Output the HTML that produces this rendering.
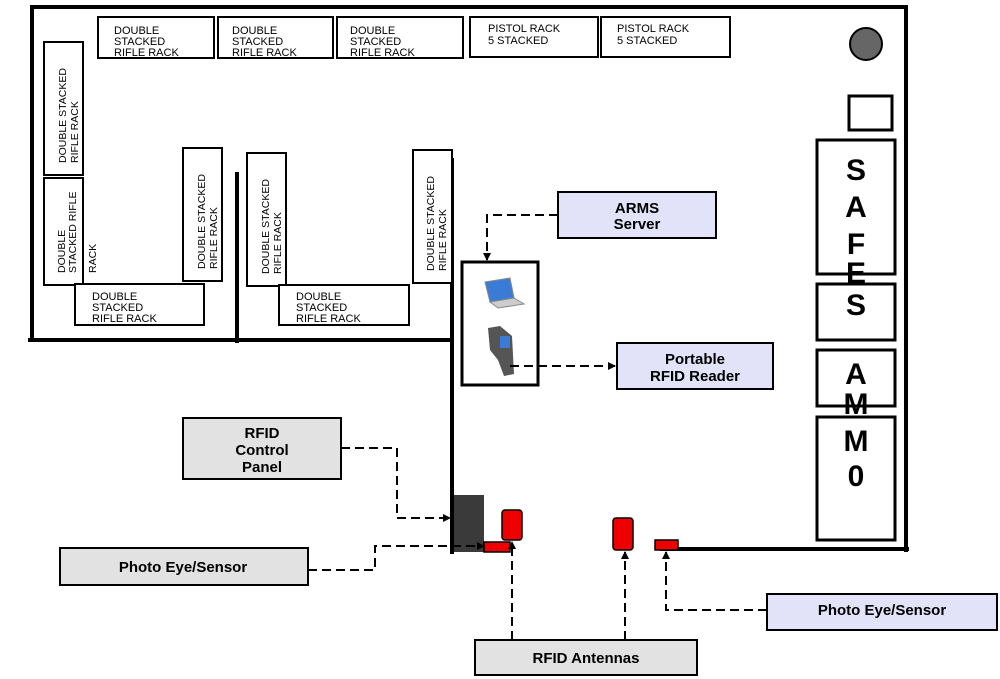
<!DOCTYPE html>
<html><head><style>body{margin:0;background:#fff}svg{display:block}</style></head><body>
<svg width="1000" height="679" viewBox="0 0 1000 679" xmlns="http://www.w3.org/2000/svg" font-family="Liberation Sans, Arial, sans-serif">
<defs><marker id="a" markerWidth="8" markerHeight="8" refX="7" refY="4" orient="auto" markerUnits="userSpaceOnUse"><path d="M0,0 L8,4 L0,8 Z" fill="#000"/></marker></defs>
<g stroke="#000" fill="none">
<path d="M30,7 H908 M32,6 V342 M28,340 H452 M452,158 V554 M906,6 V552 M660,549 H909 M237,172 V343" stroke-width="4"/>
</g>
<g stroke="#000" stroke-width="2" fill="#fff">
<rect x="98" y="17" width="116" height="41"/><rect x="218" y="17" width="115" height="41"/><rect x="337" y="17" width="126" height="41"/>
<rect x="470" y="17" width="128" height="40"/><rect x="601" y="17" width="129" height="40"/>
<rect x="849" y="96" width="43" height="34" stroke-width="3"/>
<rect x="44" y="42" width="39" height="133"/><rect x="44" y="178" width="39" height="107"/>
<rect x="75" y="284" width="129" height="41"/><rect x="183" y="148" width="39" height="133"/>
<rect x="247" y="153" width="39" height="133"/><rect x="279" y="285" width="130" height="40"/>
<rect x="413" y="150" width="39" height="133"/>
<rect x="462" y="262" width="76" height="123" stroke-width="3"/>
<rect x="817" y="140" width="78" height="134" stroke-width="3"/><rect x="817" y="284" width="78" height="56" stroke-width="3"/>
<rect x="817" y="350" width="78" height="56" stroke-width="3"/><rect x="817" y="417" width="78" height="123" stroke-width="3"/>
<rect x="558" y="192" width="158" height="46" fill="#e2e2f8"/><rect x="617" y="343" width="156" height="46" fill="#e2e2f8"/>
<rect x="183" y="418" width="158" height="61" fill="#e2e2e2"/><rect x="60" y="548" width="248" height="37" fill="#e2e2e2"/>
<rect x="767" y="594" width="230" height="36" fill="#e2e2f8"/><rect x="475" y="640" width="222" height="35" fill="#e2e2e2"/>
</g>
<circle cx="866" cy="44" r="16" fill="#666" stroke="#000" stroke-width="2"/>
<rect x="454" y="495" width="30" height="57" fill="#3a3a3a"/>
<g fill="#e00" stroke="#000" stroke-width="1.5">
<rect x="502" y="510" width="20" height="30" rx="3"/><rect x="484" y="542" width="26" height="10"/>
<rect x="613" y="518" width="20" height="32" rx="3"/><rect x="655" y="540" width="23" height="10"/>
</g>
<!-- icons -->
<path d="M485,282 L510,278 L514,298 L490,302 Z" fill="#3a7bd5" stroke="#888"/>
<path d="M490,302 L514,298 L524,304 L498,308 Z" fill="#ccc" stroke="#888"/>
<path d="M488,328 L500,326 L512,336 L514,374 L504,376 L498,360 L490,350 Z" fill="#555"/>
<rect x="500" y="336" width="10" height="12" fill="#3a7bd5"/>
<g stroke="#000" stroke-width="2" fill="none" stroke-dasharray="9,5">
<path d="M558,215 H487 V260" marker-end="url(#a)"/>
<path d="M510,366 H615" marker-end="url(#a)"/>
<path d="M341,448 H397 V518 H450" marker-end="url(#a)"/>
<path d="M308,570 H375 V546 H484" marker-end="url(#a)"/>
<path d="M512,640 V542" marker-end="url(#a)"/>
<path d="M625,640 V552" marker-end="url(#a)"/>
<path d="M767,610 H666 V552" marker-end="url(#a)"/>
</g>
<g font-size="11" fill="#000">
<text x="114" y="34">DOUBLE</text><text x="114" y="45">STACKED</text><text x="114" y="56">RIFLE RACK</text>
<text x="232" y="34">DOUBLE</text><text x="232" y="45">STACKED</text><text x="232" y="56">RIFLE RACK</text>
<text x="350" y="34">DOUBLE</text><text x="350" y="45">STACKED</text><text x="350" y="56">RIFLE RACK</text>
<text x="488" y="32">PISTOL RACK</text><text x="488" y="44">5  STACKED</text>
<text x="617" y="32">PISTOL RACK</text><text x="617" y="44">5  STACKED</text>
<text x="92" y="300">DOUBLE</text><text x="92" y="311">STACKED</text><text x="92" y="322">RIFLE RACK</text>
<text x="296" y="300">DOUBLE</text><text x="296" y="311">STACKED</text><text x="296" y="322">RIFLE RACK</text>
<g font-size="10.5">
<text transform="translate(66,163) rotate(-90)">DOUBLE STACKED</text><text transform="translate(78,163) rotate(-90)">RIFLE RACK</text>
<text transform="translate(65,273) rotate(-90)">DOUBLE</text><text transform="translate(76,273) rotate(-90)">STACKED RIFLE</text><text transform="translate(96,273) rotate(-90)">RACK</text>
<text transform="translate(205,269) rotate(-90)">DOUBLE STACKED</text><text transform="translate(217,269) rotate(-90)">RIFLE RACK</text>
<text transform="translate(269,274) rotate(-90)">DOUBLE STACKED</text><text transform="translate(281,274) rotate(-90)">RIFLE RACK</text>
<text transform="translate(434,271) rotate(-90)">DOUBLE STACKED</text><text transform="translate(446,271) rotate(-90)">RIFLE RACK</text>
</g>
</g>
<g font-weight="bold" font-size="15" text-anchor="middle">
<text x="637" y="213">ARMS</text><text x="637" y="229">Server</text>
<text x="695" y="364">Portable</text><text x="695" y="381">RFID Reader</text>
<text x="262" y="438">RFID</text><text x="262" y="455">Control</text><text x="262" y="472">Panel</text>
<text x="183" y="572">Photo Eye/Sensor</text>
<text x="882" y="615">Photo Eye/Sensor</text>
<text x="586" y="663">RFID Antennas</text>
</g>
<g font-weight="bold" font-size="30" text-anchor="middle">
<text x="856" y="180">S</text><text x="856" y="217">A</text><text x="856" y="254">F</text><text x="856" y="283">E</text>
<text x="856" y="315">S</text><text x="856" y="384">A</text><text x="856" y="414">M</text>
<text x="856" y="451">M</text><text x="856" y="486">0</text>
</g>
</svg>
</body></html>
